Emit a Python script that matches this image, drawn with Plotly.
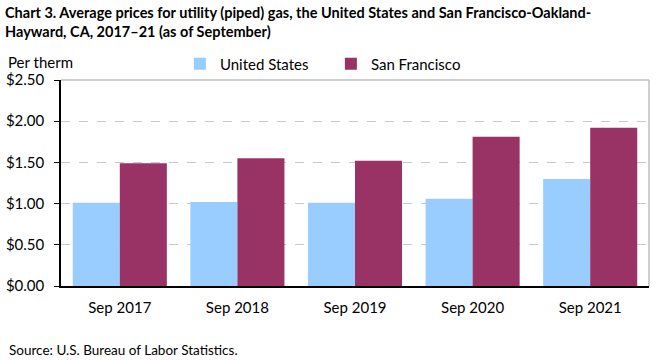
import plotly.graph_objects as go

categories = ["Sep 2017", "Sep 2018", "Sep 2019", "Sep 2020", "Sep 2021"]
us_values = [1.01, 1.02, 1.01, 1.06, 1.30]
sf_values = [1.49, 1.55, 1.52, 1.81, 1.92]
y_ticks = [0, 0.5, 1.0, 1.5, 2.0, 2.5]
y_tick_labels = ["$0.00", "$0.50", "$1.00", "$1.50", "$2.00", "$2.50"]
title_lines = [
    "Chart 3. Average prices for utility (piped) gas, the United States and San Francisco-Oakland-",
    "Hayward, CA, 2017–21 (as of September)",
]

FONT = "Lato"

fig = go.Figure()
fig.add_trace(go.Bar(name="United States", x=categories, y=us_values,
                     marker=dict(color="#99CCFF", line=dict(width=0))))
fig.add_trace(go.Bar(name="San Francisco", x=categories, y=sf_values,
                     marker=dict(color="#993366", line=dict(width=0))))

plot_h = 361 - 80 - 75
plot_w = 661 - 61 - 12

fig.update_layout(
    width=661, height=361,
    margin=dict(l=61, r=12, t=80, b=75),
    paper_bgcolor="white", plot_bgcolor="white",
    barmode="group", bargap=0.2, bargroupgap=0,
    font=dict(family=FONT, size=15, color="#000000"),
    legend=dict(orientation="h", x=0.209 - 4 / plot_w, xanchor="left",
                y=(286 - 64) / plot_h, yanchor="middle",
                entrywidth=106, entrywidthmode="pixels",
                font=dict(family=FONT, size=15), bgcolor="rgba(0,0,0,0)"),
    showlegend=True,
)

fig.update_yaxes(range=[0, 2.5], tickvals=y_ticks, ticktext=y_tick_labels,
                 showgrid=True, gridcolor="#C8C8C8", griddash="dash", gridwidth=1,
                 showline=True, linecolor="#000000", linewidth=1.5,
                 ticks="outside", ticklen=5, tickcolor="#000000", ticklabelstandoff=7,
                 zeroline=False, fixedrange=True, automargin=False)
fig.update_xaxes(showline=True, linecolor="#000000", linewidth=1.5, ticks="",
                 ticklabelstandoff=7, fixedrange=True, automargin=False)

# gray frame on top and right
fig.add_shape(type="line", xref="paper", yref="paper", x0=0, x1=1, y0=1, y1=1,
              line=dict(color="#BFBFBF", width=1.5), layer="above")
fig.add_shape(type="line", xref="paper", yref="paper", x0=1, x1=1, y0=0, y1=1,
              line=dict(color="#BFBFBF", width=1.5), layer="above")

# title lines (positions in container pixels converted to paper fractions)
for text, ypix in zip(title_lines, [12.5, 31]):
    fig.add_annotation(text="<b>" + text + "</b>", xref="paper", yref="paper",
                       x=(3 - 61) / plot_w, xanchor="left",
                       y=(361 - 75 - ypix) / plot_h, yanchor="middle", showarrow=False,
                       font=dict(family=FONT, size=14.5, color="#000000"))

fig.add_annotation(text="Per therm", xref="paper", yref="paper", x=(6 - 61) / plot_w,
                   xanchor="left", y=(361 - 75 - 62) / plot_h, yanchor="middle", showarrow=False,
                   font=dict(family=FONT, size=15))
fig.add_annotation(text="Source: U.S. Bureau of Labor Statistics.", xref="paper", yref="paper",
                   x=(7 - 61) / plot_w, xanchor="left", y=(361 - 75 - 350) / plot_h,
                   yanchor="middle", showarrow=False,
                   font=dict(family=FONT, size=13.5))

fig.write_html("out.html", config={"displayModeBar": False},
               post_script="document.body.style.margin='0';")
